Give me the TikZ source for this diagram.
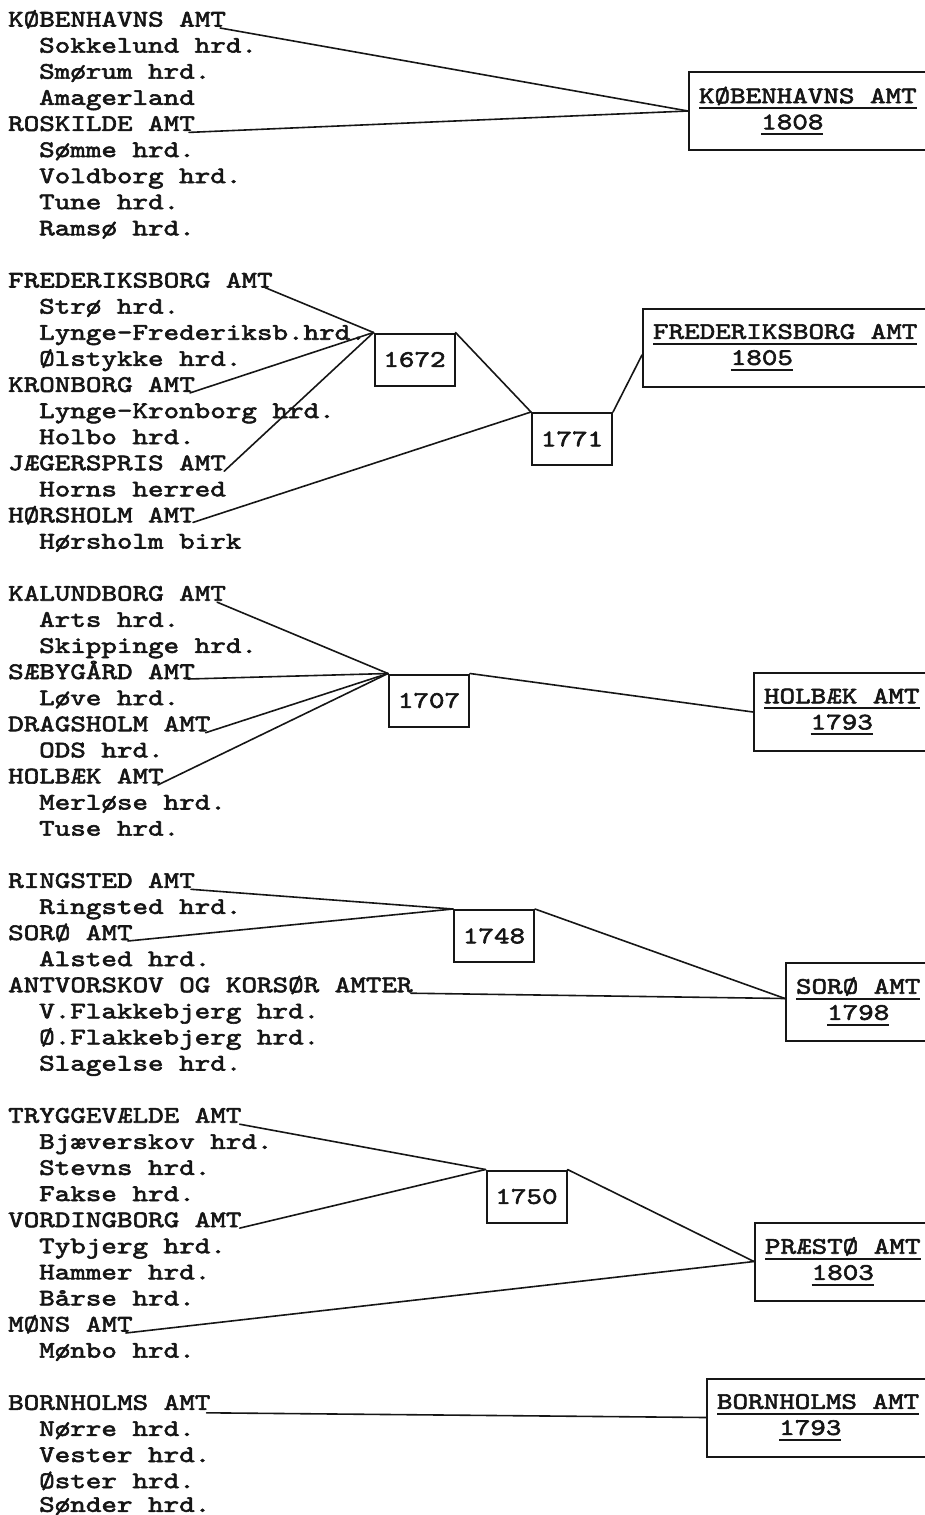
\documentclass[tikz,border=0pt]{standalone}
\usepackage{fontspec}
\usepackage{xcolor}
\usepackage{tikz}
\usetikzlibrary{calc}
\definecolor{ink}{RGB}{22,22,22}
\newfontfamily\amtfont{lmmono10-regular.otf}[FakeStretch=1.25, FakeBold=2.5]
\newcommand{\amtsize}{\amtfont\fontsize{23.7pt}{26.1pt}\selectfont}
\newcommand{\amtsp}{\hphantom{0}}
\newsavebox{\amtbx}
\newcommand{\amtline}[1]{\sbox{\amtbx}{#1}\rlap{\raisebox{-6pt}{\rule{\wd\amtbx}{2pt}}}\usebox{\amtbx}}
\tikzset{
  row/.style={anchor=base west, inner sep=0pt, font=\amtsize, text=ink},
  yearbox/.style={rectangle, draw=ink, line width=2pt, minimum width=80pt,
    minimum height=52pt, inner sep=0pt, font=\amtsize, text=ink},
  amtbox/.style={rectangle, draw=ink, line width=2pt, anchor=west,
    minimum height=78pt, text width=300pt, inner xsep=10pt, inner ysep=0pt,
    align=left, font=\amtsize, text=ink},
  link/.style={line width=1.6pt, color=ink, line cap=round, line join=round}
}
\begin{document}
\begin{tikzpicture}[x=1pt, y=-1pt]
  \useasboundingbox (0,0) rectangle (925,1515);
  \clip (0,0) rectangle (925,1515);

  % Group 1 (Koebenhavn)
  \node[row] (kbh) at (8,26.5) {KØBENHAVNS AMT};
  \node[row] (sokkelund) at (39,52.6) {Sokkelund hrd.};
  \node[row] (smoerum) at (39,78.7) {Smørum hrd.};
  \node[row] (amagerland) at (39,104.8) {Amagerland};
  \node[row] (roskilde) at (8,130.9) {ROSKILDE AMT};
  \node[row] (soemme) at (39,157.0) {Sømme hrd.};
  \node[row] (voldborg) at (39,183.1) {Voldborg hrd.};
  \node[row] (tune) at (39,209.2) {Tune hrd.};
  \node[row] (ramsoe) at (39,235.3) {Ramsø hrd.};

  \node[amtbox] (kbhbox) at (688,111) {\amtline{KØBENHAVNS\amtsp AMT}\\\phantom{0000}\amtline{1808}};

  \draw[link] ($(kbh.base east)+(-6,1.5)$) -- (kbhbox.west);
  \draw[link] ($(roskilde.base east)+(-6,1.5)$) -- (kbhbox.west);

  % Group 2 (Frederiksborg)
  \node[row] (frb) at (8,287.5) {FREDERIKSBORG AMT};
  \node[row] (stroe) at (39,313.6) {Strø hrd.};
  \node[row] (lyngefrb) at (39,339.7) {Lynge-Frederiksb.hrd.};
  \node[row] (oelstykke) at (39,365.8) {Ølstykke hrd.};
  \node[row] (kronborg) at (8,391.9) {KRONBORG AMT};
  \node[row] (lyngekron) at (39,418.0) {Lynge-Kronborg hrd.};
  \node[row] (holbo) at (39,444.1) {Holbo hrd.};
  \node[row] (jaegerspris) at (8,470.2) {JÆGERSPRIS AMT};
  \node[row] (horns) at (39,496.3) {Horns herred};
  \node[row] (hoersholm) at (8,522.4) {HØRSHOLM AMT};
  \node[row] (hoersholmbirk) at (39,548.5) {Hørsholm birk};

  \node[yearbox] (y1672) at (414.5,359.5) {1672};
  \node[yearbox] (y1771) at (572,439) {1771};
  \node[amtbox] (frbbox) at (642,347.5) {\amtline{FREDERIKSBORG\amtsp AMT}\\\phantom{00000}\amtline{1805}};

  \draw[link] ($(frb.base east)+(-8,0)$) -- (y1672.north west);
  \draw[link] ($(kronborg.base east)+(-5,1)$) -- (y1672.north west);
  \draw[link] ($(jaegerspris.base east)+(-2,1)$) -- (y1672.north west);
  \draw[link] (y1672.north east) -- (y1771.north west);
  \draw[link] ($(hoersholm.base east)+(-2,0)$) -- (y1771.north west);
  \draw[link] (y1771.north east) -- ($(frbbox.west)+(0,7.5)$);

  % Group 3 (Holbaek)
  \node[row] (kalundborg) at (8,600.7) {KALUNDBORG AMT};
  \node[row] (arts) at (39,626.8) {Arts hrd.};
  \node[row] (skippinge) at (39,652.9) {Skippinge hrd.};
  \node[row] (saebygaard) at (8,679.0) {SÆBYGÅRD AMT};
  \node[row] (loeve) at (39,705.1) {Løve hrd.};
  \node[row] (dragsholm) at (8,731.2) {DRAGSHOLM AMT};
  \node[row] (ods) at (39,757.3) {ODS hrd.};
  \node[row] (holbaek) at (8,783.4) {HOLBÆK AMT};
  \node[row] (merloese) at (39,809.5) {Merløse hrd.};
  \node[row] (tuse) at (39,835.6) {Tuse hrd.};

  \node[yearbox] (y1707) at (429,700.5) {1707};
  \node[amtbox] (holbaekbox) at (753,712) {\amtline{HOLBÆK\amtsp AMT}\\\phantom{000}\amtline{1793}};

  \draw[link] ($(kalundborg.base east)+(-9,1.5)$) -- (y1707.north west);
  \draw[link] ($(saebygaard.base east)+(-7,0)$) -- (y1707.north west);
  \draw[link] ($(dragsholm.base east)+(-5,1.5)$) -- (y1707.north west);
  \draw[link] ($(holbaek.base east)+(-6,1.5)$) -- (y1707.north west);
  \draw[link] (y1707.north east) -- (holbaekbox.west);

  % Group 4 (Soroe)
  \node[row] (ringsted) at (8,887.8) {RINGSTED AMT};
  \node[row] (ringstedhrd) at (39,913.9) {Ringsted hrd.};
  \node[row] (soroe) at (8,940.0) {SORØ AMT};
  \node[row] (alsted) at (39,966.1) {Alsted hrd.};
  \node[row] (antvorskov) at (8,992.2) {ANTVORSKOV OG KORSØR AMTER};
  \node[row] (vflakke) at (39,1018.3) {V.Flakkebjerg hrd.};
  \node[row] (oflakke) at (39,1044.4) {Ø.Flakkebjerg hrd.};
  \node[row] (slagelse) at (39,1070.5) {Slagelse hrd.};

  \node[yearbox] (y1748) at (494,936) {1748};
  \node[amtbox] (soroebox) at (785,1001.5) {\amtline{SORØ\amtsp AMT}\\\phantom{00}\amtline{1798}};

  \draw[link] ($(ringsted.base east)+(-4,1.5)$) -- (y1748.north west);
  \draw[link] ($(soroe.base east)+(-5,1)$) -- (y1748.north west);
  \draw[link] (y1748.north east) -- ($(soroebox.west)+(0,-3)$);
  \draw[link] ($(antvorskov.base east)+(-2,1)$) -- ($(soroebox.west)+(0,-3)$);

  % Group 5 (Praestoe)
  \node[row] (tryggevaelde) at (8,1122.7) {TRYGGEVÆLDE AMT};
  \node[row] (bjaeverskov) at (39,1148.8) {Bjæverskov hrd.};
  \node[row] (stevns) at (39,1174.9) {Stevns hrd.};
  \node[row] (fakse) at (39,1201.0) {Fakse hrd.};
  \node[row] (vordingborg) at (8,1227.1) {VORDINGBORG AMT};
  \node[row] (tybjerg) at (39,1253.2) {Tybjerg hrd.};
  \node[row] (hammer) at (39,1279.3) {Hammer hrd.};
  \node[row] (baarse) at (39,1305.4) {Bårse hrd.};
  \node[row] (moens) at (8,1331.5) {MØNS AMT};
  \node[row] (moenbo) at (39,1357.6) {Mønbo hrd.};

  \node[yearbox] (y1750) at (526.5,1196.5) {1750};
  \node[amtbox] (praestoebox) at (754,1261.5) {\amtline{PRÆSTØ\amtsp AMT}\\\phantom{000}\amtline{1803}};

  \draw[link] ($(tryggevaelde.base east)+(-2,1.5)$) -- (y1750.north west);
  \draw[link] ($(vordingborg.base east)+(-2,1)$) -- (y1750.north west);
  \draw[link] (y1750.north east) -- (praestoebox.west);
  \draw[link] ($(moens.base east)+(-7,1.5)$) -- (praestoebox.west);

  % Group 6 (Bornholm)
  \node[row] (bornholm) at (8,1409.8) {BORNHOLMS AMT};
  \node[row] (noerre) at (39,1435.9) {Nørre hrd.};
  \node[row] (vester) at (39,1462.0) {Vester hrd.};
  \node[row] (oester) at (39,1488.1) {Øster hrd.};
  \node[row] (soender) at (39,1511.8) {Sønder hrd.};

  \node[amtbox] (bornholmbox) at (706,1417.5) {\amtline{BORNHOLMS\amtsp AMT}\\\phantom{0000}\amtline{1793}};

  \draw[link] ($(bornholm.base east)+(-4,3)$) -- (bornholmbox.west);
\end{tikzpicture}
\end{document}
